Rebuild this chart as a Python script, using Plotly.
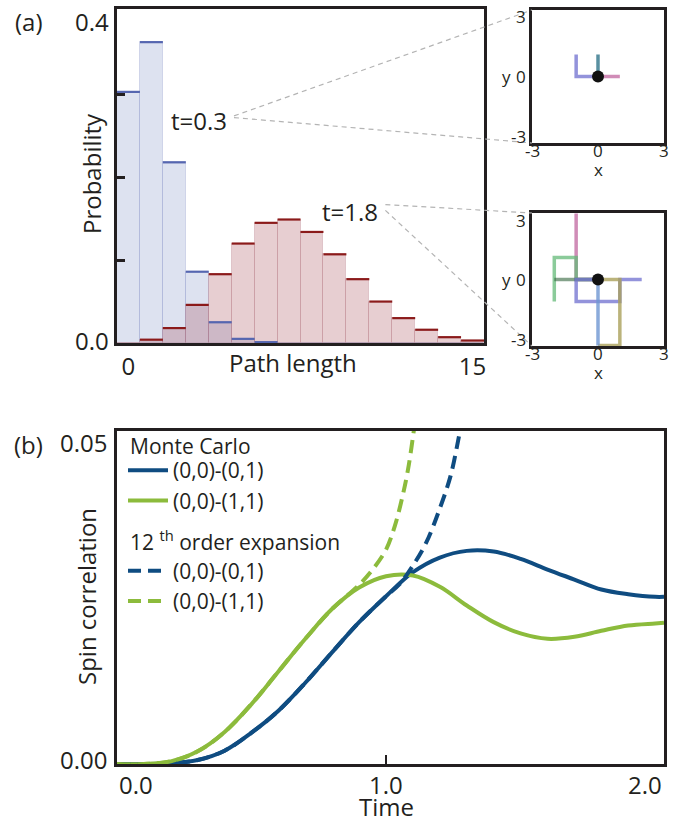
import plotly.graph_objects as go

# ---------------- data ----------------
# (a) path-length histograms
path_length = list(range(16))
prob_t03 = [0.303, 0.363, 0.218, 0.086, 0.025, 0.005, 0.001, 0, 0, 0, 0, 0, 0, 0, 0, 0]
prob_t18 = [0.0, 0.004, 0.018, 0.046, 0.083, 0.120, 0.145, 0.149, 0.134, 0.107,
            0.077, 0.050, 0.030, 0.016, 0.007, 0.003]

# (a) insets: random-walk paths (vertex lists)
walks_t03_x = [[0, 1], [0, 0], [0, -1, -1]]
walks_t03_y = [[0, 0], [0, 1], [0, 0, 1]]
walks_t03_c = ["rgba(200,120,170,0.85)", "rgba(60,125,145,0.85)", "rgba(120,120,210,0.8)"]

walks_t18_x = [[0, -1, -1], [0, -1, -1, -2, -2, -2], [0, -2], [0, -1, -1, 1, 1, 2],
               [0, 1, 1, 0], [0, 0]]
walks_t18_y = [[0, 0, 3], [0, 0, 1, 1, 0, -1], [0, 0], [0, 0, -1, -1, 0, 0],
               [0, 0, -3, -3], [0, -3]]
walks_t18_c = ["rgba(200,120,170,0.85)", "rgba(100,185,120,0.75)", "rgba(50,100,60,0.6)",
               "rgba(120,120,210,0.8)", "rgba(170,160,90,0.8)", "rgba(110,150,210,0.8)"]

# (b) spin correlations
time_mc = [0.0, 0.1, 0.2, 0.3, 0.4, 0.5, 0.6, 0.7, 0.8, 0.9, 1.0, 1.1, 1.2, 1.3, 1.4,
           1.5, 1.6, 1.7, 1.8, 1.9, 2.0, 2.033]
corr01_mc = [0, 0, 0.0001, 0.0006, 0.0020, 0.0047, 0.0080, 0.0122, 0.0168, 0.0213, 0.0252,
             0.0288, 0.0310, 0.0320, 0.0319, 0.0308, 0.0292, 0.0277, 0.0262, 0.0255, 0.0251, 0.0251]
corr11_mc = [0, 0, 0.0004, 0.0019, 0.0048, 0.0090, 0.0139, 0.0188, 0.0233, 0.0265, 0.0282,
             0.0283, 0.0266, 0.0238, 0.0213, 0.0196, 0.0188, 0.0191, 0.0200, 0.0208, 0.0211, 0.0212]
time_exp01 = [0.0, 0.1, 0.2, 0.3, 0.4, 0.5, 0.6, 0.7, 0.8, 0.9, 1.0, 1.05, 1.1, 1.15, 1.2,
              1.24, 1.27, 1.29]
corr01_exp = [0, 0, 0.0001, 0.0006, 0.0020, 0.0047, 0.0080, 0.0122, 0.0168, 0.0213, 0.0252,
              0.0270, 0.0298, 0.0333, 0.0384, 0.0433, 0.0490, 0.0530]
time_exp11 = [0.0, 0.1, 0.2, 0.3, 0.4, 0.5, 0.6, 0.7, 0.8, 0.85, 0.9, 0.95, 1.0, 1.033,
              1.06, 1.082, 1.103, 1.12]
corr11_exp = [0, 0, 0.0004, 0.0019, 0.0048, 0.0090, 0.0139, 0.0188, 0.0233, 0.0251, 0.0269,
              0.0292, 0.0322, 0.0358, 0.0400, 0.0443, 0.0500, 0.0550]

legend_group_titles = ["Monte Carlo", "12 <sup>th</sup> order expansion"]
hist_xticks = [0, 15]
hist_yticklabels = {0.0: "0.0", 0.4: "0.4"}
inset_ticks = [-3, 0, 3]
inset_ticklabels = ["-3", "0", "3"]
b_xticks = [0.0, 1.0, 2.0]
b_xticklabels = ["0.0", "1.0", "2.0"]
b_yticklabels = {0.0: "0.00", 0.05: "0.05"}

# ---------------- layout constants ----------------
W, H = 679, 824
FONT = "Open Sans"
INK = "#231f20"
BLUE = "#0f4c81"
GREEN = "#8cbb3c"

dom_a_x = [117 / W, 484 / W]
dom_a_y = [1 - 343 / H, 1 - 9 / H]
rng_a_x = [-0.5, 15.5]
rng_a_y = [0, 0.403]
dom_i_x = [532 / W, 664 / W]
dom_i1_y = [1 - 143 / H, 1 - 10 / H]
dom_i2_y = [1 - 346 / H, 1 - 213 / H]
rng_i = [-3.02, 3.02]
dom_b_x = [117 / W, 664 / W]
dom_b_y = [1 - 764 / H, 1 - 431 / H]
rng_b_x = [0, 2.033]


def px(dom, rng, v):
    return dom[0] + (v - rng[0]) / (rng[1] - rng[0]) * (dom[1] - dom[0])


fig = go.Figure()

# ---- (a) histogram fills ----
fig.add_trace(go.Bar(x=path_length, y=prob_t03, width=1, xaxis="x", yaxis="y",
                     marker=dict(color="rgba(120,140,195,0.25)",
                                 line=dict(color="rgba(150,160,205,0.35)", width=1)),
                     showlegend=False, hoverinfo="skip"))
fig.add_trace(go.Bar(x=path_length, y=prob_t18, width=1, xaxis="x", yaxis="y",
                     marker=dict(color="rgba(160,60,70,0.25)",
                                 line=dict(color="rgba(180,120,130,0.3)", width=1)),
                     showlegend=False, hoverinfo="skip"))


def top_segments(xs, ys):
    sx, sy = [], []
    for xv, yv in zip(xs, ys):
        if yv > 0:
            sx += [xv - 0.5, xv + 0.5, None]
            sy += [yv, yv, None]
    return sx, sy


sx, sy = top_segments(path_length, prob_t03)
fig.add_trace(go.Scatter(x=sx, y=sy, mode="lines", xaxis="x", yaxis="y",
                         line=dict(color="#5566b0", width=2.2), showlegend=False, hoverinfo="skip"))
sx, sy = top_segments(path_length, prob_t18)
fig.add_trace(go.Scatter(x=sx, y=sy, mode="lines", xaxis="x", yaxis="y",
                         line=dict(color="#8b1a1a", width=2.2), showlegend=False, hoverinfo="skip"))

# ---- insets ----
for xs, ys, c in zip(walks_t03_x, walks_t03_y, walks_t03_c):
    fig.add_trace(go.Scatter(x=xs, y=ys, mode="lines", xaxis="x2", yaxis="y2",
                             line=dict(color=c, width=3.5), showlegend=False, hoverinfo="skip"))
fig.add_trace(go.Scatter(x=[0], y=[0], mode="markers", xaxis="x2", yaxis="y2",
                         marker=dict(color="#111", size=12), showlegend=False, hoverinfo="skip"))
for xs, ys, c in zip(walks_t18_x, walks_t18_y, walks_t18_c):
    fig.add_trace(go.Scatter(x=xs, y=ys, mode="lines", xaxis="x3", yaxis="y3",
                             line=dict(color=c, width=3.5), showlegend=False, hoverinfo="skip"))
fig.add_trace(go.Scatter(x=[0], y=[0], mode="markers", xaxis="x3", yaxis="y3",
                         marker=dict(color="#111", size=12), showlegend=False, hoverinfo="skip"))

# ---- (b) curves ----
fig.add_trace(go.Scatter(x=time_mc, y=corr01_mc, mode="lines", xaxis="x4", yaxis="y4",
                         line=dict(color=BLUE, width=4, shape="spline"),
                         name="(0,0)-(0,1)", legendgroup="mc"))
fig.add_trace(go.Scatter(x=time_mc, y=corr11_mc, mode="lines", xaxis="x4", yaxis="y4",
                         line=dict(color=GREEN, width=4, shape="spline"),
                         name="(0,0)-(1,1)", legendgroup="mc"))
fig.add_trace(go.Scatter(x=time_exp01, y=corr01_exp, mode="lines", xaxis="x4", yaxis="y4",
                         line=dict(color=BLUE, width=4, shape="spline", dash="13px,7px"),
                         name="(0,0)-(0,1)", legendgroup="exp"))
fig.add_trace(go.Scatter(x=time_exp11, y=corr11_exp, mode="lines", xaxis="x4", yaxis="y4",
                         line=dict(color=GREEN, width=4, shape="spline", dash="13px,7px"),
                         name="(0,0)-(1,1)", legendgroup="exp"))

frame = dict(showline=True, linecolor=INK, mirror=True, showgrid=False, zeroline=False,
             fixedrange=True, automargin=False)

ann = []


def label(text, x, y, xref="paper", yref="paper", xanchor="center", yanchor="middle",
          size=24, xshift=0, yshift=0, angle=0):
    ann.append(dict(text=text, x=x, y=y, xref=xref, yref=yref, xanchor=xanchor,
                    yanchor=yanchor, showarrow=False, xshift=xshift, yshift=yshift,
                    textangle=angle, font=dict(family=FONT, size=size, color=INK)))


# panel letters
label("(a)", 29 / W, 1 - 21 / H)
label("(b)", 28 / W, 1 - 444 / H)

# (a) labels
for v, t in hist_yticklabels.items():
    label(t, dom_a_x[0], v, yref="y", xanchor="right", xshift=-6,
          yshift=(-10 if v > 0 else 3))
label("Path length", 293 / W, 1 - 362 / H)
label("Probability", 91 / W, 1 - 174 / H, angle=-90)
t03_pos = (3.07, 0.269)
t18_pos = (9.66, 0.159)
label("t=0.3", t03_pos[0], t03_pos[1], xref="x", yref="y")
label("t=1.8", t18_pos[0], t18_pos[1], xref="x", yref="y")

# inset labels
for dom_y in (dom_i1_y, dom_i2_y):
    label("3", dom_i_x[0], dom_y[1], xanchor="right", xshift=-4, yshift=-7, size=17)
    label("0", dom_i_x[0], (dom_y[0] + dom_y[1]) / 2, xanchor="right", xshift=-4, size=17)
    label("y", dom_i_x[0], (dom_y[0] + dom_y[1]) / 2, xanchor="right", xshift=-19, size=17)
    label("-3", dom_i_x[0], dom_y[0], xanchor="right", xshift=-4, yshift=6, size=17)
    for v, t in zip(inset_ticks, inset_ticklabels):
        label(t, px(dom_i_x, rng_i, v), dom_y[0], yshift=-8, size=17)
    label("x", px(dom_i_x, rng_i, 0), dom_y[0], yshift=-27, size=17)

# (b) labels
for v, t in b_yticklabels.items():
    label(t, dom_b_x[0], v, yref="y4", xanchor="right", xshift=-8,
          yshift=(-11 if v > 0 else 5))
for i, (v, t) in enumerate(zip(b_xticks, b_xticklabels)):
    if i == 0:
        label(t, dom_b_x[0], dom_b_y[0], xanchor="left", yanchor="top", yshift=-2)
    elif i == len(b_xticks) - 1:
        label(t, dom_b_x[1], dom_b_y[0], xanchor="right", yanchor="top", yshift=-2)
    else:
        label(t, v, dom_b_y[0], xref="x4", yanchor="top", yshift=-2)
label("Time", 386 / W, 1 - 806 / H)
label("Spin correlation", 86 / W, 1 - 597 / H, angle=-90)

# legend group headings
for t, ypx in zip(legend_group_titles, [446, 540]):
    label(t, 128 / W, 1 - ypx / H, xanchor="left", size=21)

# dashed connectors
sh = []
s03x = px(dom_a_x, rng_a_x, 4.6)
s03y = px(dom_a_y, rng_a_y, 0.274)
s18x = px(dom_a_x, rng_a_x, 11.2)
s18y_top = px(dom_a_y, rng_a_y, 0.167)
s18y_bot = px(dom_a_y, rng_a_y, 0.160)
for (x0, y0, x1, y1) in [(s03x, s03y, dom_i_x[0], dom_i1_y[1]),
                         (s03x, s03y - 0.002, dom_i_x[0], dom_i1_y[0]),
                         (s18x, s18y_top, dom_i_x[0], dom_i2_y[1]),
                         (s18x, s18y_bot, dom_i_x[0], dom_i2_y[0])]:
    sh.append(dict(type="line", xref="paper", yref="paper", x0=x0, y0=y0, x1=x1, y1=y1,
                   line=dict(color="#b4b4b4", width=1.2, dash="5px,4px"), layer="above"))

fig.update_layout(
    template="none",
    width=W, height=H, margin=dict(l=0, r=0, t=0, b=0, autoexpand=False),
    paper_bgcolor="white", plot_bgcolor="white",
    font=dict(family=FONT, size=24, color=INK),
    barmode="overlay", bargap=0,
    xaxis=dict(domain=dom_a_x, range=rng_a_x, tickvals=hist_xticks, ticks="",
               tickfont=dict(size=24), linewidth=3, anchor="y", **frame),
    yaxis=dict(domain=dom_a_y, range=rng_a_y, tickvals=[0.1, 0.2, 0.3], ticks="inside",
               ticklen=8, tickwidth=2.5, tickcolor=INK, showticklabels=False,
               linewidth=3, anchor="x", **frame),
    xaxis2=dict(domain=dom_i_x, range=rng_i, showticklabels=False, ticks="",
                linewidth=2.5, anchor="y2", **frame),
    yaxis2=dict(domain=dom_i1_y, range=rng_i, showticklabels=False, ticks="",
                linewidth=2.5, anchor="x2", **frame),
    xaxis3=dict(domain=dom_i_x, range=rng_i, showticklabels=False, ticks="",
                linewidth=2.5, anchor="y3", **frame),
    yaxis3=dict(domain=dom_i2_y, range=rng_i, showticklabels=False, ticks="",
                linewidth=2.5, anchor="x3", **frame),
    xaxis4=dict(domain=dom_b_x, range=rng_b_x, tickvals=[1.0], ticks="inside", ticklen=9,
                tickwidth=2, tickcolor=INK, showticklabels=False, linewidth=2.5,
                anchor="y4", **frame),
    yaxis4=dict(domain=dom_b_y, range=[0, 0.05], showticklabels=False, ticks="",
                linewidth=2.5, anchor="x4", **frame),
    legend=dict(x=dom_b_x[0] + 6 / W, y=1 - 450 / H, xanchor="left", yanchor="top",
                bgcolor="rgba(0,0,0,0)", font=dict(size=21, family=FONT, color=INK),
                tracegroupgap=40, traceorder="grouped", itemwidth=40),
    annotations=ann, shapes=sh,
)

fig.write_html("out.html", config={"displayModeBar": False},
               post_script="document.body.style.margin='0';document.body.style.padding='0';")
